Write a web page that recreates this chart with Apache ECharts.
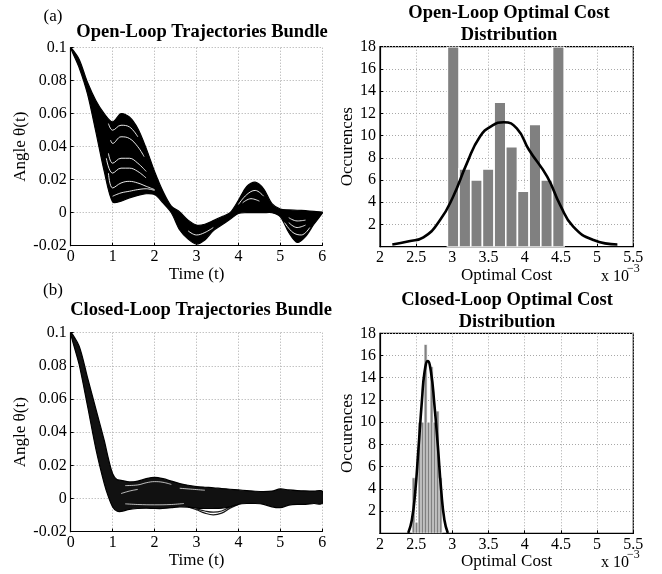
<!DOCTYPE html>
<html><head><meta charset="utf-8">
<script src="https://cdn.jsdelivr.net/npm/echarts@6/dist/echarts.min.js"></script>
<style>html,body{margin:0;padding:0;background:#fff}#c{width:662px;height:574px}</style>
</head><body><div id="c"></div>
<script>
// ---------- data ----------
const timeGrid = [0,0.2,0.4,0.6,0.8,1,1.2,1.4,1.6,1.8,2,2.2,2.4,2.6,2.8,3,3.2,3.4,3.6,3.8,4,4.2,4.4,4.6,4.8,5,5.2,5.4,5.6,5.8,6];
const openUpper = [0.1,0.093,0.079,0.068,0.060,0.055,0.060,0.058,0.051,0.039,0.025,0.013,0.004,0.0005,-0.0045,-0.0075,-0.007,-0.0048,-0.0025,0.0,0.0075,0.016,0.0185,0.0145,0.0055,0.0022,0.0017,0.0015,0.0012,0.0008,0.0003];
const openLower = [0.1,0.088,0.072,0.049,0.025,0.0065,0.007,0.009,0.0105,0.0115,0.011,0.006,0.0,-0.0105,-0.016,-0.019,-0.0165,-0.011,-0.0075,-0.004,-0.0005,0.0,0.0,0.0,0.0,-0.0025,-0.012,-0.018,-0.0145,-0.007,-0.0003];
// visible gaps between the open-loop trajectories
const openGap1 = [[0.9,0.054],[1.0,0.050],[1.2,0.053],[1.4,0.052],[1.6,0.046]];
const openGap2 = [[0.95,0.044],[1.0,0.042],[1.2,0.046],[1.4,0.045],[1.6,0.040],[1.75,0.034]];
const openGap3 = [[0.9,0.036],[1.0,0.030],[1.2,0.033],[1.4,0.033],[1.6,0.030],[1.8,0.025]];
const openGap4 = [[0.85,0.033],[1.0,0.024],[1.2,0.027],[1.4,0.027],[1.6,0.025],[1.8,0.021]];
const openGap5 = [[0.9,0.024],[1.0,0.015],[1.2,0.018],[1.4,0.019],[1.6,0.018],[1.8,0.016],[2.0,0.014]];
const openGap6 = [[1.0,0.010],[1.2,0.012],[1.4,0.013],[1.6,0.014],[1.8,0.0145],[2.0,0.0135]];
const openGap7 = [[2.8,-0.011],[3.0,-0.0135],[3.2,-0.012],[3.4,-0.009]];
const openGap8 = [[4.0,0.005],[4.2,0.011],[4.4,0.0135],[4.6,0.010]];
const openGap9 = [[4.1,0.006],[4.3,0.0085],[4.5,0.007]];
const openGap10 = [[5.1,-0.006],[5.3,-0.012],[5.5,-0.0135],[5.7,-0.009]];
const openGap11 = [[5.2,-0.006],[5.4,-0.009],[5.6,-0.0075]];
const openGap12 = [[5.2,-0.003],[5.4,-0.005],[5.6,-0.0045]];

const closedTime = [0,0.2,0.4,0.6,0.8,0.9,1.0,1.1,1.2,1.4,1.6,1.8,2.0,2.2,2.4,2.6,2.8,3.0,3.2,3.4,3.6,3.8,4.0,4.2,4.4,4.6,4.8,5.0,5.2,5.4,5.6,5.8,6.0];
const closedUpper = [0.1,0.092,0.073,0.054,0.035,0.024,0.015,0.0115,0.011,0.0100,0.0105,0.0120,0.0128,0.0120,0.0105,0.0090,0.0080,0.0072,0.0068,0.0065,0.0060,0.0056,0.0052,0.0048,0.0044,0.0042,0.0045,0.0058,0.0052,0.0048,0.0046,0.0045,0.0045];
const closedLower = [0.1,0.081,0.056,0.030,0.009,0.001,-0.005,-0.0075,-0.0078,-0.0065,-0.006,-0.0058,-0.006,-0.006,-0.0055,-0.005,-0.0052,-0.0058,-0.006,-0.006,-0.0058,-0.005,-0.0035,-0.003,-0.003,-0.0035,-0.005,-0.0055,-0.004,-0.0035,-0.0035,-0.003,-0.003];
const closedOutlier1 = [[2.8,-0.005],[3.0,-0.0068],[3.2,-0.0088],[3.4,-0.0098],[3.6,-0.0088],[3.8,-0.0058],[4.0,-0.0035]];
const closedOutlier2 = [[3.0,-0.0062],[3.2,-0.0075],[3.4,-0.0082],[3.6,-0.0075],[3.8,-0.005]];
const closedGap1 = [[1.3,0.0078],[1.6,0.0082],[1.8,0.0095],[2.0,0.0102],[2.2,0.0098],[2.4,0.0085]];
const closedGap2 = [[1.3,-0.0032],[1.6,-0.0036],[2.0,-0.0038],[2.4,-0.0036],[2.7,-0.003]];
const closedGap3 = [[2.6,0.0062],[2.9,0.0056],[3.2,0.005]];
const closedGap4 = [[1.2,0.003],[1.4,0.0045],[1.6,0.0055]];

const angleTicks = [-0.02, 0, 0.02, 0.04, 0.06, 0.08, 0.1];
const costTicks = [2, 2.5, 3, 3.5, 4, 4.5, 5, 5.5];   // x 10^-3

const openBinEdges = [2.931,3.092,3.254,3.415,3.577,3.738,3.899,4.061,4.222,4.384,4.545];
const openCounts = [18,7,6,7,13,9,5,11,6,18];
const openFitX = [2.17,2.4,2.6,2.83,3.01,3.2,3.38,3.55,3.71,3.89,4.06,4.31,4.49,4.67,4.95,5.28];
const openFitY = [0.2,0.5,0.84,2.4,4.5,7.5,9.9,10.9,11.2,10.65,8.7,6.3,3.75,1.8,0.6,0.2];

const closedBinEdges = [2.443,2.485,2.526,2.568,2.609,2.651,2.692,2.734,2.775,2.817,2.858];
const closedCounts = [5,1,10,10,17,10,15,10,11,5];
const closedFitX = [2.39,2.44,2.485,2.53,2.58,2.615,2.66,2.705,2.75,2.80,2.845,2.89,2.937];
const closedFitY = [0.03,1.2,3.6,7.5,12,14.5,15.5,14.5,11.7,7.8,3.9,1.2,0.03];

// ---------- chart ----------
const FONT = 'Liberation Serif';
const chart = echarts.init(document.getElementById('c'), null, {renderer:'canvas'});

const gridLine = {show:true, lineStyle:{color:'#a8a8a8', type:[1,2], width:1}};
const axLine = {show:true, onZero:false, lineStyle:{color:'#000', width:1.2}};
const axTick = {show:true, inside:true, length:3, lineStyle:{color:'#000'}};
const nameStyle = {color:'#000', fontFamily:FONT, fontSize:17};

function trajAxisX(gi){
  return {type:'value', gridIndex:gi, min:0, max:6, interval:1,
    name:'Time (t)', nameLocation:'middle', nameGap:19, nameTextStyle:nameStyle,
    axisLine:axLine, axisTick:axTick,
    axisLabel:{color:'#000', fontFamily:FONT, fontSize:16, margin:3},
    splitLine:gridLine};
}
function trajAxisY(gi){
  return {type:'value', gridIndex:gi, min:angleTicks[0], max:angleTicks[angleTicks.length-1], interval:0.02,
    name:'Angle θ(t)', nameLocation:'middle', nameGap:34, nameTextStyle:nameStyle,
    axisLine:axLine, axisTick:axTick,
    axisLabel:{color:'#000', fontFamily:FONT, fontSize:16, margin:4},
    splitLine:gridLine};
}
function costAxisX(gi){
  return {type:'value', gridIndex:gi, min:costTicks[0], max:costTicks[costTicks.length-1], interval:0.5,
    name:'Optimal Cost', nameLocation:'middle', nameGap:18, nameTextStyle:nameStyle,
    axisLine:axLine, axisTick:axTick,
    axisLabel:{color:'#000', fontFamily:FONT, fontSize:16, margin:3},
    splitLine:gridLine};
}
function countAxisY(gi){
  return {type:'value', gridIndex:gi, min:0, max:18, interval:2,
    name:'Occurences', nameLocation:'middle', nameGap:21, nameTextStyle:nameStyle,
    axisLine:axLine, axisTick:axTick,
    axisLabel:{color:'#000', fontFamily:FONT, fontSize:16, margin:4, formatter:v => v === 0 ? '' : String(v)},
    splitLine:gridLine};
}

// filled bundle between lower and upper envelopes, drawn through the axis scale
function bandSeries(ax, t, lower, upper, fill){
  return {type:'custom', xAxisIndex:ax, yAxisIndex:ax, clip:true, z:2, silent:true,
    data:t.map((x,i)=>[x, lower[i], upper[i]]), encode:{x:0, y:[1,2]},
    renderItem:function(params, api){
      if (params.dataIndex !== 0) return null;
      const pts = [];
      for (let i = 0; i < t.length; i++) pts.push(api.coord([t[i], upper[i]]));
      for (let i = t.length - 1; i >= 1; i--) pts.push(api.coord([t[i], lower[i]]));
      return {type:'polygon', shape:{points:pts, smooth:0.3},
        style:{fill:fill, stroke:'#000', lineWidth:1.2}};
    }};
}
function thinLine(ax, pts, color, w){
  return {type:'line', xAxisIndex:ax, yAxisIndex:ax, data:pts, smooth:0.4, symbol:'none', silent:true,
    lineStyle:{color:color, width:w, opacity:0.9}, z:4};
}
function histSeries(ax, edges, counts, stroke, sw){
  const data = counts.map((c,i)=>[edges[i], edges[i+1], c]);
  return {type:'custom', xAxisIndex:ax, yAxisIndex:ax, data:data, clip:true, z:2, silent:true,
    encode:{x:[0,1], y:2},
    renderItem:function(params, api){
      const p0 = api.coord([api.value(0), api.value(2)]);
      const p1 = api.coord([api.value(1), 0]);
      return {type:'rect', shape:{x:p0[0], y:p0[1], width:p1[0]-p0[0], height:p1[1]-p0[1]},
        style:{fill:'#808080', stroke:stroke, lineWidth:sw}};
    }};
}
function fitSeries(ax, xs, ys){
  return {type:'line', xAxisIndex:ax, yAxisIndex:ax, data:xs.map((x,i)=>[x, ys[i]]), smooth:0.5,
    symbol:'none', silent:true, lineStyle:{color:'#000', width:2.6}, z:5};
}

const series = [].concat(
  [bandSeries(0, timeGrid, openLower, openUpper, '#000')],
  [openGap1,openGap2,openGap3,openGap4,openGap5,openGap6,openGap7,openGap8,openGap9,openGap10,openGap11,openGap12].map(g=>thinLine(0, g, '#fff', 1)),
  [histSeries(1, openBinEdges, openCounts, '#fff', 1.6), fitSeries(1, openFitX, openFitY)],
  [bandSeries(2, closedTime, closedLower, closedUpper, '#111')],
  [closedGap1,closedGap2,closedGap3,closedGap4].map(g=>thinLine(2, g, '#fff', 0.8)),
  [closedOutlier1, closedOutlier2].map(g=>thinLine(2, g, '#000', 1.2)),
  [histSeries(3, closedBinEdges, closedCounts, '#fff', 0.7), fitSeries(3, closedFitX, closedFitY)]
);

const txt = (x, y, text, size, bold, align) => ({type:'text', x:x, y:y, silent:true, z:100,
  style:{text:text, fontFamily:FONT, fontSize:size, fontWeight:bold?'bold':'normal', fill:'#000',
    textAlign:align||'center', textVerticalAlign:'middle'}});

chart.setOption({
  backgroundColor:'#fff',
  animation:false,
  grid:[
    {left:70.7, top:47.7, width:251.6, height:198, outerBoundsMode:'none'},
    {left:380, top:46.7, width:253.3, height:200, show:true, borderColor:'#000', borderWidth:1.2, outerBoundsMode:'none'},
    {left:70.7, top:332.7, width:251.6, height:199, outerBoundsMode:'none'},
    {left:380, top:333.3, width:253.3, height:200, show:true, borderColor:'#000', borderWidth:1.2, outerBoundsMode:'none'}
  ],
  xAxis:[trajAxisX(0), costAxisX(1), trajAxisX(2), costAxisX(3)],
  yAxis:[trajAxisY(0), countAxisY(1), trajAxisY(2), countAxisY(3)],
  series:series,
  graphic:[
    txt(53, 17, '(a)', 17, false),
    txt(202, 32, 'Open-Loop Trajectories Bundle', 18.5, true),
    txt(509, 13, 'Open-Loop Optimal Cost', 18.5, true),
    txt(509, 35, 'Distribution', 18.5, true),
    txt(53, 291, '(b)', 17, false),
    txt(201, 310, 'Closed-Loop Trajectories Bundle', 18.5, true),
    txt(507, 300, 'Closed-Loop Optimal Cost', 18.5, true),
    txt(507, 322, 'Distribution', 18.5, true),
    txt(601, 277, 'x 10', 16, false, 'left'),
    txt(627, 269, '−3', 12, false, 'left'),
    txt(601, 563, 'x 10', 16, false, 'left'),
    txt(627, 555, '−3', 12, false, 'left')
  ]
});
</script></body></html>
